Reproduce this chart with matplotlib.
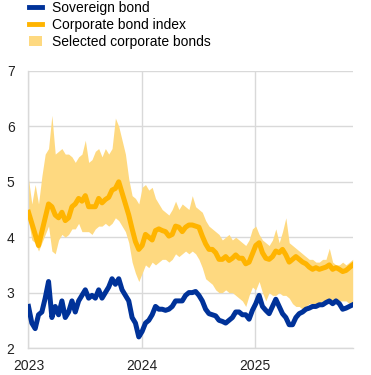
import matplotlib
matplotlib.use("Agg")
import matplotlib.pyplot as plt
import pandas as pd
from matplotlib.lines import Line2D
from matplotlib.patches import Patch

plt.rcParams['font.family'] = ['Liberation Sans', 'DejaVu Sans']

# roughly every ten days, Jan 2023 - Nov 2025 (yields, %)
corporate_index = [4.45, 4.25, 4.05, 3.85, 4.1, 4.35, 4.6, 4.55, 4.4, 4.35,
                   4.45, 4.3, 4.35, 4.55, 4.6, 4.7, 4.65, 4.75, 4.55, 4.55,
                   4.55, 4.7, 4.62, 4.68, 4.72, 4.85, 4.88, 5.0, 4.8, 4.6,
                   4.4, 4.15, 3.92, 3.78, 3.85, 4.05, 4.0, 3.95, 4.12, 4.15,
                   4.12, 4.1, 4.02, 4.05, 4.2, 4.18, 4.1, 4.18, 4.22, 4.22,
                   4.2, 4.18, 4.02, 3.88, 3.78, 3.78, 3.72, 3.6, 3.6, 3.65,
                   3.58, 3.62, 3.68, 3.62, 3.62, 3.52, 3.55, 3.7, 3.85, 3.9,
                   3.72, 3.62, 3.6, 3.65, 3.75, 3.72, 3.78, 3.68, 3.55, 3.6,
                   3.65, 3.6, 3.55, 3.52, 3.46, 3.42, 3.45, 3.42, 3.44, 3.46,
                   3.5, 3.42, 3.45, 3.42, 3.38, 3.4, 3.45, 3.5]

sovereign = [2.75, 2.45, 2.35, 2.6, 2.65, 2.9, 3.2, 2.55, 2.75, 2.6,
             2.85, 2.55, 2.65, 2.85, 2.65, 2.85, 2.95, 3.05, 2.9, 2.95,
             2.9, 3.05, 2.9, 3.0, 3.1, 3.25, 3.15, 3.25, 3.05, 2.95,
             2.85, 2.55, 2.45, 2.2, 2.3, 2.45, 2.5, 2.6, 2.75, 2.7,
             2.7, 2.68, 2.7, 2.75, 2.85, 2.85, 2.85, 2.95, 3.0, 3.0,
             3.02, 2.95, 2.85, 2.7, 2.62, 2.6, 2.58, 2.5, 2.48, 2.45,
             2.5, 2.55, 2.65, 2.65, 2.6, 2.6, 2.52, 2.68, 2.8, 2.95,
             2.75, 2.68, 2.62, 2.75, 2.88, 2.75, 2.62, 2.55, 2.42, 2.42,
             2.55, 2.62, 2.65, 2.7, 2.72, 2.75, 2.75, 2.78, 2.78, 2.82,
             2.85, 2.8, 2.85, 2.8, 2.7, 2.72, 2.75, 2.78]

selected_high = [5.05, 4.6, 4.95, 4.6, 5.1, 5.5, 5.6, 6.2, 5.5, 5.55,
                 5.6, 5.5, 5.5, 5.45, 5.35, 5.45, 5.5, 5.75, 5.35, 5.4,
                 5.55, 5.6, 5.45, 5.6, 5.5, 5.6, 6.15, 6.0, 5.75, 5.5,
                 5.05, 4.75, 4.7, 4.6, 4.9, 4.95, 4.85, 4.9, 4.7, 4.6,
                 4.5, 4.45, 4.4, 4.5, 4.65, 4.5, 4.6, 4.55, 4.5, 4.75,
                 4.55, 4.5, 4.45, 4.3, 4.2, 4.15, 4.1, 4.05, 3.95, 4.0,
                 4.05, 3.95, 4.0, 3.95, 3.9, 3.85, 3.95, 4.15, 4.2, 4.05,
                 3.95, 3.9, 3.85, 3.95, 4.15, 3.9, 4.1, 4.35, 3.9, 3.85,
                 3.8, 3.75, 3.7, 3.65, 3.6, 3.6, 3.55, 3.55, 3.6, 3.6,
                 3.8, 3.55, 3.5, 3.5, 3.55, 3.5, 3.55, 3.6]

selected_low = [4.3, 3.95, 3.9, 3.75, 3.9, 4.05, 4.2, 3.75, 3.7, 3.95,
                4.05, 4.0, 4.05, 4.15, 4.15, 4.25, 4.1, 4.1, 4.1, 4.05,
                4.15, 4.2, 4.2, 4.25, 4.2, 4.25, 4.35, 4.3, 4.2, 4.1,
                3.9, 3.55, 3.35, 3.2, 3.35, 3.5, 3.45, 3.55, 3.5, 3.55,
                3.6, 3.6, 3.55, 3.6, 3.7, 3.65, 3.7, 3.75, 3.7, 3.75,
                3.7, 3.6, 3.45, 3.25, 3.2, 3.15, 3.05, 3.0, 3.0, 3.05,
                3.0, 3.0, 2.95, 2.9, 2.85, 2.75, 2.95, 3.1, 3.05, 3.2,
                3.0, 2.85, 3.0, 2.95, 2.95, 3.0, 2.95, 2.95, 2.9, 2.8,
                2.75, 2.75, 2.7, 2.75, 2.8, 2.8, 2.8, 2.8, 2.85, 2.85,
                2.85, 2.8, 2.85, 2.85, 2.85, 2.85, 2.8, 2.8]

dates = pd.date_range('2023-01-01', '2025-11-12', periods=len(sovereign))

blue = '#003299'
orange = '#FFB400'
light = '#FED980'
grid = '#D9D9D9'

fig = plt.figure(figsize=(3.71, 3.75), dpi=100)
ax = fig.add_axes([0.0768, 0.072, 0.8747, 0.7387])

ax.fill_between(dates, selected_low, selected_high, color=light, lw=0, zorder=2)
ax.plot(dates, corporate_index, color=orange, lw=3.6, zorder=3)
ax.plot(dates, sovereign, color=blue, lw=3.6, zorder=4)

ax.set_ylim(2, 7)
ax.set_xlim(pd.Timestamp('2023-01-01'), pd.Timestamp('2025-11-13'))
ax.set_yticks([2, 3, 4, 5, 6, 7])
ax.set_xticks(pd.to_datetime(['2023-01-01', '2024-01-01', '2025-01-01']))
ax.set_xticklabels(['2023', '2024', '2025'])
ax.grid(True, color=grid, lw=1, zorder=0)
ax.set_axisbelow(True)
for s in ['top', 'right']:
    ax.spines[s].set_visible(False)
for s in ['left', 'bottom']:
    ax.spines[s].set_color(grid)
    ax.spines[s].set_linewidth(1)
ax.tick_params(length=0, labelsize=10, colors='#222222')
ax.tick_params(axis='y', pad=10)
ax.tick_params(axis='x', pad=8)

handles = [Line2D([], [], color=blue, lw=3.5),
           Line2D([], [], color=orange, lw=3.5),
           Patch(facecolor=light, edgecolor='none')]
labels = ['Sovereign bond', 'Corporate bond index', 'Selected corporate bonds']
fig.legend(handles, labels, loc='upper left', bbox_to_anchor=(29 / 371, 1 - 1 / 375),
           frameon=False, fontsize=10, handlelength=0.9, handleheight=0.75,
           handletextpad=0.75, labelspacing=0.2, borderpad=0, borderaxespad=0)

fig.savefig('out.png', dpi=100)
